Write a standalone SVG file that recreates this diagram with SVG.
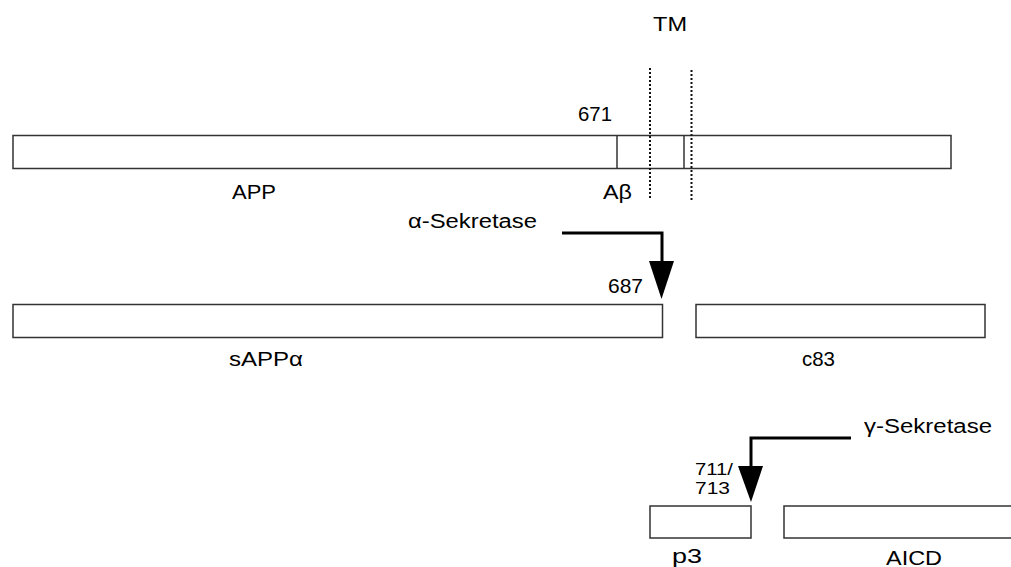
<svg xmlns="http://www.w3.org/2000/svg" width="1011" height="567" viewBox="0 0 1011 567">
<style>
.box{fill:#fff;stroke:#333;stroke-width:1.5}
.div{stroke:#333;stroke-width:1.5}
.dot{stroke:#111;stroke-width:2;stroke-dasharray:2 2}
.arr{fill:none;stroke:#000;stroke-width:3}
.head{fill:#000}
text{font-family:"Liberation Sans",Arial,sans-serif;font-size:20px;fill:#000}
.sm{font-size:16px}
</style>
<rect width="1011" height="567" fill="#fff"/>
<g id="app">
<rect class="box" x="13" y="135.5" width="938" height="33"/>
<line class="div" x1="617" y1="135.5" x2="617" y2="168.5"/>
<line class="div" x1="684" y1="135.5" x2="684" y2="168.5"/>
<text x="232" y="199" textLength="44" lengthAdjust="spacingAndGlyphs">APP</text>
<text x="603" y="199" textLength="29" lengthAdjust="spacingAndGlyphs">Aβ</text>
<text x="578" y="121" textLength="34" lengthAdjust="spacingAndGlyphs">671</text>
</g>
<g id="tm">
<line class="dot" x1="650" y1="68" x2="650" y2="200"/>
<line class="dot" x1="691.5" y1="70" x2="691.5" y2="200"/>
<text x="653" y="31" textLength="34" lengthAdjust="spacingAndGlyphs">TM</text>
</g>
<g id="sappa">
<rect class="box" x="13" y="304.5" width="649.5" height="33"/>
<text x="229" y="366" textLength="74" lengthAdjust="spacingAndGlyphs">sAPPα</text>
</g>
<g id="c83">
<rect class="box" x="696" y="304.5" width="289" height="33"/>
<text x="802" y="366" textLength="33" lengthAdjust="spacingAndGlyphs">c83</text>
</g>
<g id="p3">
<rect class="box" x="650" y="506" width="101" height="32"/>
<text x="672" y="563" textLength="30" lengthAdjust="spacingAndGlyphs">p3</text>
</g>
<g id="aicd">
<rect class="box" x="784" y="506" width="240" height="32"/>
<text x="886" y="565" textLength="56" lengthAdjust="spacingAndGlyphs">AICD</text>
</g>
<g id="connectors">
<polyline class="arr" points="562,233 662,233 662,263"/>
<polygon class="head" points="649,261 674,261 661.5,299"/>
<polyline class="arr" points="851,438 751,438 751,468"/>
<polygon class="head" points="738,466 763,466 751,502"/>
</g>
<g id="labels">
<text x="408" y="228" textLength="129" lengthAdjust="spacingAndGlyphs">α-Sekretase</text>
<text x="608" y="293" textLength="35" lengthAdjust="spacingAndGlyphs">687</text>
<text x="864" y="433" textLength="128" lengthAdjust="spacingAndGlyphs">γ-Sekretase</text>
<text class="sm" x="695" y="475" textLength="38" lengthAdjust="spacingAndGlyphs">711/</text>
<text class="sm" x="695" y="494" textLength="35" lengthAdjust="spacingAndGlyphs">713</text>
</g>
</svg>
